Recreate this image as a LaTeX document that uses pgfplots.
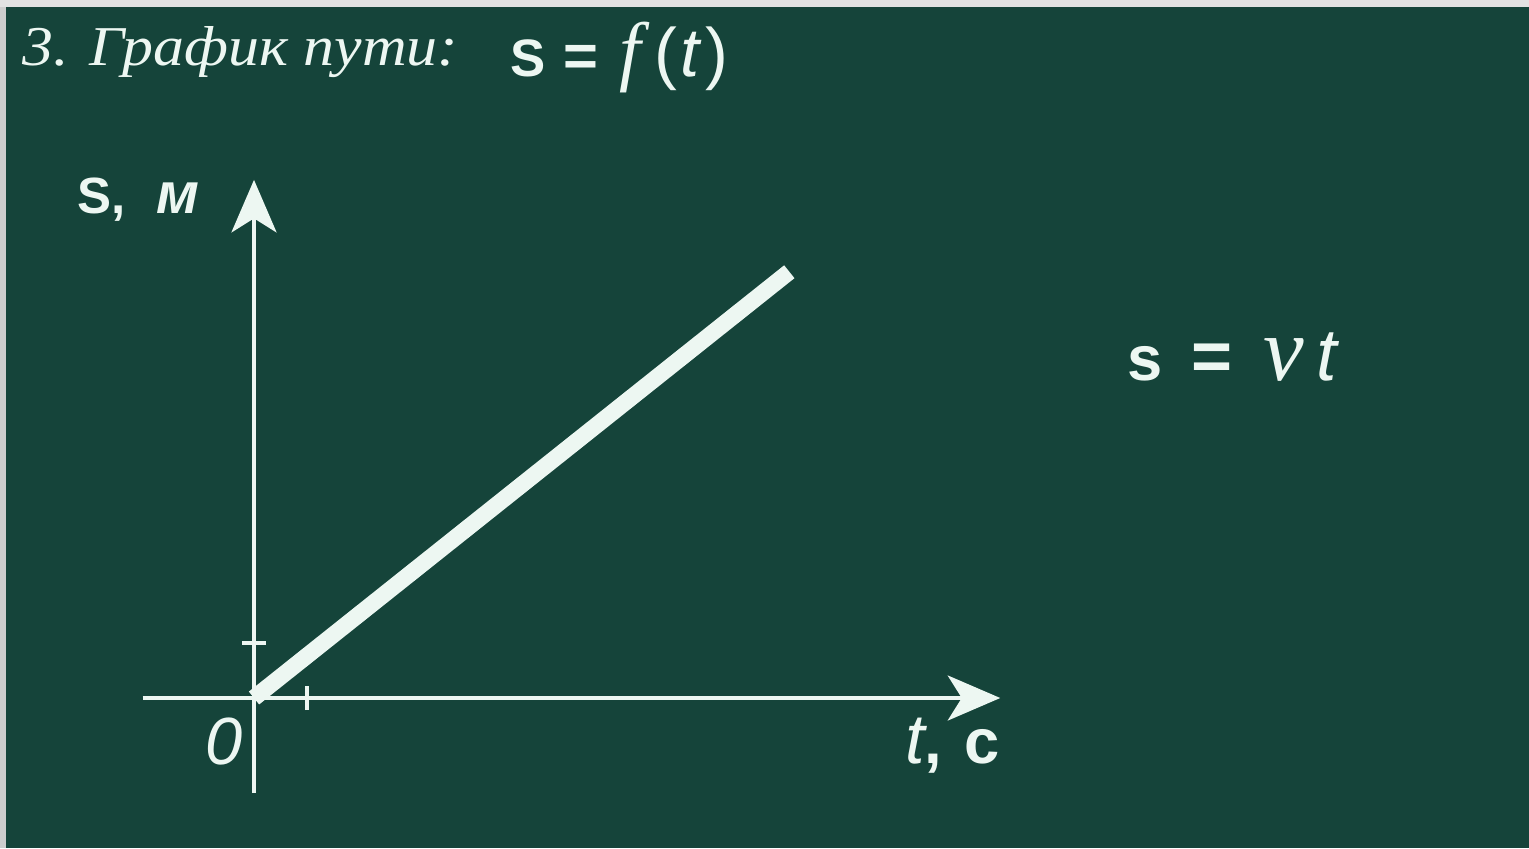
\documentclass[border=0pt]{standalone}
\usepackage{fontspec}
\setmainfont{Liberation Sans}
\newfontfamily\serif{Liberation Serif}
\usepackage{graphicx}
\usepackage{pgfplots}
\pgfplotsset{compat=1.18}
\usetikzlibrary{arrows.meta}
\definecolor{board}{HTML}{15443A}
\definecolor{chalk}{HTML}{EDF7F2}
\definecolor{frameTop}{HTML}{E2E2E2}
\definecolor{frameLeft}{HTML}{CDCDCD}
\begin{document}
\begin{tikzpicture}
% frame and board (1 px = 0.02 cm)
\fill[frameTop] (0,0) rectangle (30.58,16.96);
\fill[frameLeft] (0,0) rectangle (0.12,16.82);
\fill[board] (0.12,0) rectangle (30.58,16.82);

% heading
\node[anchor=base west, text=chalk, inner sep=0pt] at (0.44,15.64)
  {\scalebox{1.1}[1]{\fontsize{32}{34}\selectfont\serif\itshape 3. График пути:}};
\node[anchor=base west, text=chalk, inner sep=0pt] at (10.2,15.42)
  {\fontsize{30}{32}\selectfont\bfseries S\hspace{0.35em}{\fontsize{34}{36}\selectfont =}\hspace{0.4em}{\fontsize{44}{46}\selectfont\serif\mdseries\itshape f}\hspace{0.25em}{\fontsize{39}{41}\selectfont\mdseries(\hspace{0.05em}\textit{t}\hspace{0.05em})}};

% axis labels
\node[anchor=base west, text=chalk, inner sep=0pt] at (1.54,12.70)
  {\fontsize{29}{31}\selectfont\bfseries S,\hspace{0.6em}{\fontsize{33}{35}\selectfont\textit{м}}};
\node[text=chalk, inner sep=0pt] at (4.48,2.12)
  {\fontsize{38}{40}\selectfont\itshape 0};
\node[anchor=base west, text=chalk, inner sep=0pt] at (18.1,1.70)
  {\fontsize{36}{38}\selectfont{\fontsize{40}{42}\selectfont\itshape t}\textbf{,\hspace{0.35em}с}};

% law of motion
\node[anchor=base west, text=chalk, inner sep=0pt] at (22.54,9.36)
  {\fontsize{36}{38}\selectfont\bfseries s\hspace{0.45em}{\fontsize{40}{42}\selectfont =}\hspace{0.5em}{\fontsize{52}{54}\selectfont\serif\mdseries\itshape v}\hspace{0.2em}{\fontsize{42}{44}\selectfont\mdseries\itshape t}};

\begin{axis}[
  anchor=origin, at={(5.08cm,3.0cm)},
  x=1.06cm, y=1.1cm,
  xmin=-2.1, xmax=14.08, ymin=-1.73, ymax=9.42,
  axis lines=middle,
  axis line style={draw=chalk, line width=0.08cm},
  every inner x axis line/.append style={-{Stealth[length=1.05cm,width=0.9cm,inset=0.28cm]}},
  every inner y axis line/.append style={-{Stealth[length=1.05cm,width=0.9cm,inset=0.28cm]}},
  xtick={1}, ytick={1}, xticklabels={}, yticklabels={},
  tick align=center, major tick length=0.48cm,
  tick style={draw=chalk, line width=0.07cm},
  clip=false,
]
\addplot[draw=chalk, line width=0.33cm, line cap=butt, mark=none]
  coordinates {(0,0) (10.1,7.75)};
\end{axis}
\end{tikzpicture}
\end{document}
